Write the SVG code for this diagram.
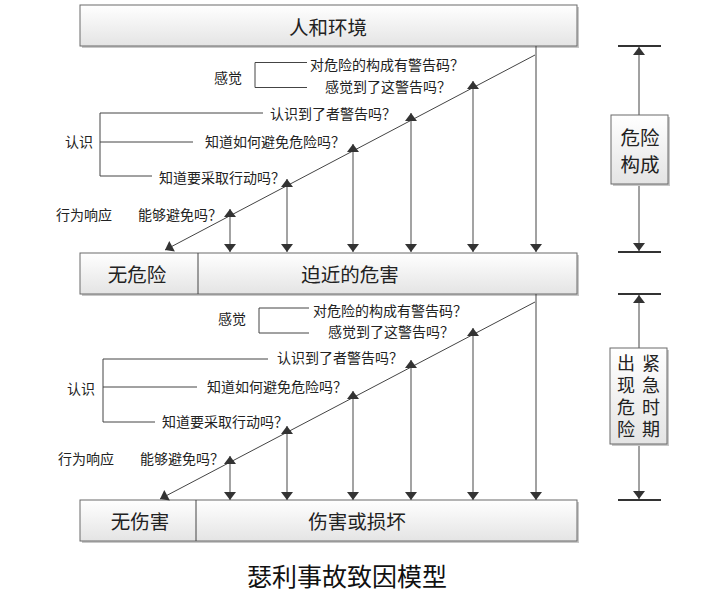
<svg xmlns="http://www.w3.org/2000/svg" width="721" height="603" viewBox="0 0 721 603">
<defs>
<linearGradient id="g" x1="0" y1="0" x2="0" y2="1">
<stop offset="0" stop-color="#ffffff"/>
<stop offset="1" stop-color="#e4e4e4"/>
</linearGradient>
<marker id="ah" markerUnits="userSpaceOnUse" markerWidth="12" markerHeight="12" viewBox="0 0 8 12" refX="8" refY="6" orient="auto-start-reverse">
<path d="M0,0 L8,6 L0,12 z" fill="#333"/>
</marker>
<style>
text{font-family:"Noto Sans CJK SC","Liberation Sans",sans-serif;fill:#222;dominant-baseline:central}
.s{font-size:14px}
.b{font-size:19.5px}
.e{font-size:18px;writing-mode:vertical-rl;letter-spacing:4px}
.m{text-anchor:middle}
.box{fill:url(#g);stroke:#6a6a6a;stroke-width:1}
.sh{fill:#c8c8c8}
.ln{fill:none;stroke:#444;stroke-width:1}
.v{fill:none;stroke:#666;stroke-width:1.2}
.bar{stroke:#333;stroke-width:2}
</style>
</defs>
<rect width="721" height="603" fill="#fff"/>

<g id="box-env">
<rect class="sh" x="82" y="7" width="497" height="41"/>
<rect class="box" x="80" y="5" width="497" height="41"/>
<text class="b m" x="328" y="26">人和环境</text>
</g>

<g id="box-mid">
<rect class="sh" x="82" y="255" width="497" height="41"/>
<rect class="box" x="80" y="253" width="497" height="41"/>
<line class="ln" x1="198" y1="253" x2="198" y2="294"/>
<text class="b m" x="137" y="273">无危险</text>
<text class="b m" x="350" y="273">迫近的危害</text>
</g>

<g id="box-bot">
<rect class="sh" x="82" y="502" width="497" height="41"/>
<rect class="box" x="80" y="500" width="497" height="41"/>
<line class="ln" x1="196" y1="500" x2="196" y2="541"/>
<text class="b m" x="140" y="520">无伤害</text>
<text class="b m" x="357" y="520">伤害或损坏</text>
</g>

<g id="labels-1">
<text class="s" x="214" y="77">感觉</text>
<path class="ln" d="M307,62.5 H255 V87.5 H307"/>
<text class="s" x="310" y="64">对危险的构成有警告码？</text>
<text class="s" x="325" y="86">感觉到了这警告吗？</text>
<text class="s" x="65" y="141">认识</text>
<path class="ln" d="M263,113 H100 V176 H152 M100,142 H193"/>
<text class="s" x="270" y="113">认识到了者警告吗？</text>
<text class="s" x="205" y="141">知道如何避免危险吗？</text>
<text class="s" x="159" y="177">知道要采取行动吗？</text>
<text class="s" x="56" y="214">行为响应</text>
<text class="s" x="138" y="214">能够避免吗？</text>
</g>

<g id="labels-2">
<text class="s" x="218" y="318">感觉</text>
<path class="ln" d="M309,308 H259 V333 H309"/>
<text class="s" x="313" y="310">对危险的构成有警告码？</text>
<text class="s" x="328" y="331">感觉到了这警告吗？</text>
<text class="s" x="67" y="388">认识</text>
<path class="ln" d="M268,359 H103 V422 H155 M103,387 H197"/>
<text class="s" x="277" y="357">认识到了者警告吗？</text>
<text class="s" x="207" y="386">知道如何避免危险吗？</text>
<text class="s" x="162" y="421">知道要采取行动吗？</text>
<text class="s" x="58" y="458">行为响应</text>
<text class="s" x="140" y="458">能够避免吗？</text>
</g>

<g id="connectors">
<line class="ln" x1="535" y1="55" x2="165" y2="250" marker-end="url(#ah)"/>
<line class="ln" x1="536" y1="46" x2="536" y2="252" marker-end="url(#ah)"/>
<line class="v" x1="473" y1="81" x2="473" y2="252" marker-start="url(#ah)" marker-end="url(#ah)"/>
<line class="v" x1="411" y1="113" x2="411" y2="252" marker-start="url(#ah)" marker-end="url(#ah)"/>
<line class="v" x1="353" y1="144" x2="353" y2="252" marker-start="url(#ah)" marker-end="url(#ah)"/>
<line class="v" x1="287" y1="179" x2="287" y2="252" marker-start="url(#ah)" marker-end="url(#ah)"/>
<line class="v" x1="230" y1="209" x2="230" y2="252" marker-start="url(#ah)" marker-end="url(#ah)"/>

<line class="ln" x1="535" y1="302" x2="160" y2="499" marker-end="url(#ah)"/>
<line class="ln" x1="536" y1="294" x2="536" y2="500" marker-end="url(#ah)"/>
<line class="v" x1="473" y1="328" x2="473" y2="500" marker-start="url(#ah)" marker-end="url(#ah)"/>
<line class="v" x1="411" y1="360" x2="411" y2="500" marker-start="url(#ah)" marker-end="url(#ah)"/>
<line class="v" x1="353" y1="391" x2="353" y2="500" marker-start="url(#ah)" marker-end="url(#ah)"/>
<line class="v" x1="287" y1="426" x2="287" y2="500" marker-start="url(#ah)" marker-end="url(#ah)"/>
<line class="v" x1="230" y1="456" x2="230" y2="500" marker-start="url(#ah)" marker-end="url(#ah)"/>

<line class="bar" x1="618" y1="46" x2="661" y2="46"/>
<line class="ln" x1="639" y1="115" x2="639" y2="47" marker-end="url(#ah)"/>
<line class="ln" x1="639" y1="184" x2="639" y2="251" marker-end="url(#ah)"/>
<line class="bar" x1="618" y1="252" x2="661" y2="252"/>

<line class="bar" x1="618" y1="294" x2="661" y2="294"/>
<line class="ln" x1="639" y1="348" x2="639" y2="295" marker-end="url(#ah)"/>
<line class="ln" x1="639" y1="444" x2="639" y2="499" marker-end="url(#ah)"/>
<line class="bar" x1="618" y1="500" x2="661" y2="500"/>
</g>

<g id="box-danger">
<rect class="sh" x="613" y="117" width="57" height="69"/>
<rect class="box" x="611" y="115" width="57" height="69"/>
<text class="b m" x="640" y="136">危险</text>
<text class="b m" x="640" y="163">构成</text>
</g>

<g id="box-emergency">
<rect class="sh" x="612" y="350" width="57" height="96"/>
<rect class="box" x="610" y="348" width="57" height="96"/>
<text class="e" x="626" y="354">出现危险</text>
<text class="e" x="651" y="354">紧急时期</text>
</g>

<g id="caption">
<text class="m" x="347" y="575" style="font-size:25px;fill:#111">瑟利事故致因模型</text>
</g>
</svg>
